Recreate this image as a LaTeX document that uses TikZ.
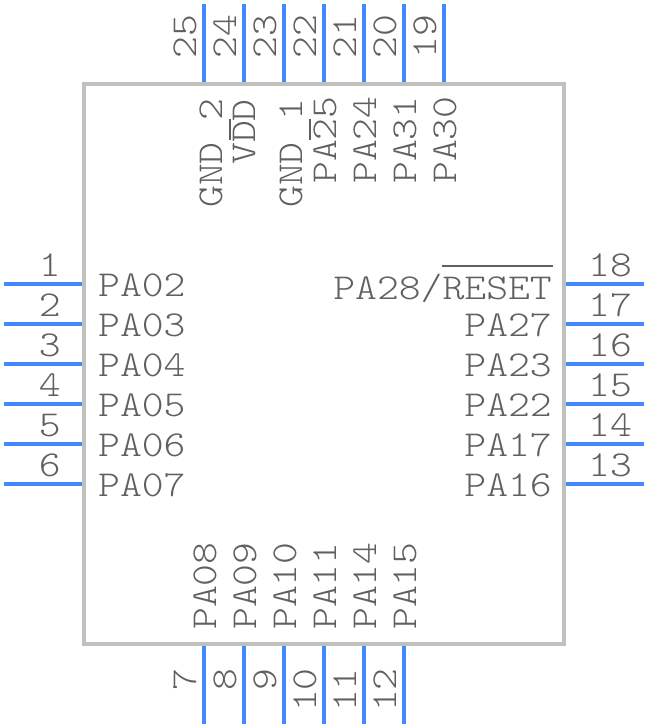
\documentclass[tikz,border=0pt]{standalone}
\usepackage{tikz}
\usepackage{fontspec}
\setmonofont[FakeStretch=1.14]{Latin Modern Mono Light}
\tikzset{
  pin line/.style={draw=pinblue,line width=4pt},
  pin num/.style={inner sep=0pt,text=labelgrey,font=\pinfont},
  pin name/.style={inner sep=0pt,text=labelgrey,font=\pinfont},
  bar line/.style={draw=labelgrey,line width=2pt}
}
\definecolor{pinblue}{RGB}{68,136,255}
\definecolor{boxgrey}{RGB}{192,192,192}
\definecolor{labelgrey}{RGB}{96,96,96}
\newcommand{\pinfont}{\fontsize{36.5}{37}\selectfont\ttfamily}
\begin{document}
\begin{tikzpicture}[x=1pt,y=-1pt]
  \useasboundingbox (0,0) rectangle (648,728);

  \node[draw=boxgrey,line width=4pt,minimum width=480pt,minimum height=560pt,inner sep=0pt] (body) at (324,364) {};

  \foreach \y/\x/\name in {
    {284/1/PA02},
    {324/2/PA03},
    {364/3/PA04},
    {404/4/PA05},
    {444/5/PA06},
    {484/6/PA07}}
  {
    \coordinate (a\x) at (4,\y);
    \coordinate (b\x) at (82,\y);
    \draw[pin line] (a\x) -- (b\x);
    \node[pin num,anchor=base east] (num\x) at (61,\y-8) {\x};
    \node[pin name,anchor=base west] (name\x) at (98,\y+12) {\name};
  }

  \foreach \y/\x/\name in {
    {484/13/PA16},
    {444/14/PA17},
    {404/15/PA22},
    {364/16/PA23},
    {324/17/PA27}}
  {
    \coordinate (a\x) at (566,\y);
    \coordinate (b\x) at (644,\y);
    \draw[pin line] (a\x) -- (b\x);
    \node[pin num,anchor=base west] (num\x) at (588,\y-8) {\x};
    \node[pin name,anchor=base east] (name\x) at (552,\y+12) {\name};
  }

  \coordinate (a18) at (566,284);
  \coordinate (b18) at (644,284);
  \draw[pin line] (a18) -- (b18);
  \node[pin num,anchor=base west] (num18) at (588,276) {18};
  \node[pin name,anchor=base east] (name18) at (552,299) {PA28/RESET};

  \foreach \xx/\x/\name in {
    {204/7/PA08},
    {244/8/PA09},
    {284/9/PA10},
    {324/10/PA11},
    {364/11/PA14},
    {404/12/PA15}}
  {
    \coordinate (a\x) at (\xx,646);
    \coordinate (b\x) at (\xx,724);
    \draw[pin line] (a\x) -- (b\x);
    \node[pin num,rotate=90,anchor=base east] (num\x) at (\xx-8,668) {\x};
    \node[pin name,rotate=90,anchor=base west] (name\x) at (\xx+12,630) {\name};
  }

  \foreach \xx/\x in {204/25,244/24,284/23,324/22,364/21,404/20,444/19}
  {
    \coordinate (a\x) at (\xx,4);
    \coordinate (b\x) at (\xx,82);
    \draw[pin line] (a\x) -- (b\x);
    \node[pin num,rotate=90,anchor=base west] (num\x) at (\xx-8,59) {\x};
  }

  \foreach \place/\x/\name in {
    {(222,208)/25/GND 2},
    {(255,165)/24/VDD},
    {(302,208)/22/GND 1},
    {(336,184)/21/PA25},
    {(376,184)/20/PA24},
    {(416,184)/19/PA31},
    {(456,184)/18/PA30}}
    \node[pin name,rotate=90,anchor=base west] (top\x) at \place {\name};

  \coordinate (barA) at (442,265.7);
  \coordinate (barB) at (553,265.7);
  \coordinate (barC) at (230,119);
  \coordinate (barD) at (230,140);
  \coordinate (barE) at (310,119);
  \coordinate (barF) at (310,140);
  \draw[bar line] (barA) -- (barB);
  \draw[bar line] (barC) -- (barD);
  \draw[bar line] (barE) -- (barF);
\end{tikzpicture}
\end{document}
